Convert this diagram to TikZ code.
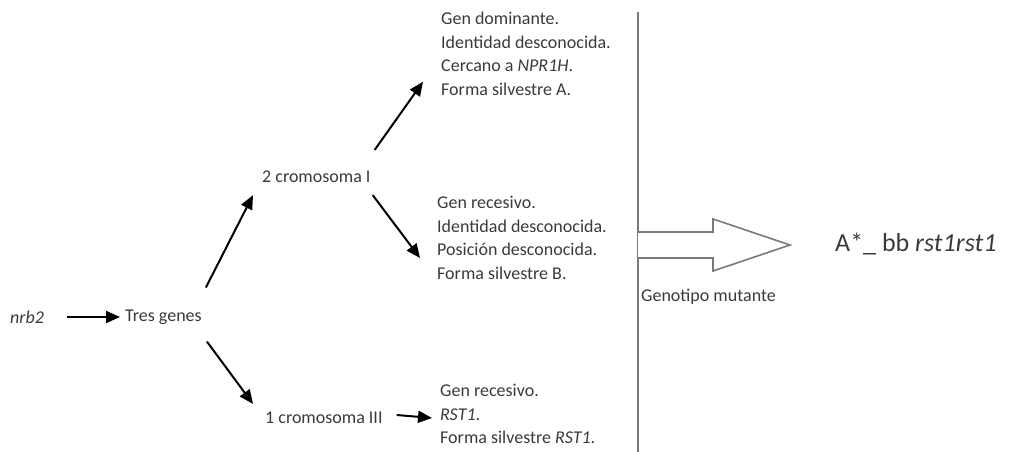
\documentclass[tikz,border=0pt]{standalone}
\usepackage{fontspec}
\setmainfont{Carlito}
\usetikzlibrary{arrows.meta}
\definecolor{textgray}{HTML}{3A3A3A}
\definecolor{linegray}{HTML}{7A7A7A}
\begin{document}
\begin{tikzpicture}[x=1pt,y=-1pt,
  txt/.style={anchor=west,inner sep=0pt,text=textgray,font=\fontsize{18}{23.5}\selectfont,align=left},
  bigtxt/.style={anchor=west,inner sep=0pt,text=textgray,font=\fontsize{26}{30}\selectfont},
  arr/.style={line width=2pt,-{Triangle[length=14pt,width=12pt]}},
  grayline/.style={draw=linegray,line width=2pt},
  hollowarrow/.style={draw=linegray,line width=1.6pt,fill=white,line join=miter}
]
\useasboundingbox (0,0) rectangle (1011,452);

\node[txt] (nrb2) at (10,317) {\itshape nrb2};
\node[txt] (tres) at (125,317) {Tres genes};
\node[txt] (c2) at (262,177) {2 cromosoma I};
\node[txt] (c1) at (265,418) {1 cromosoma III};

\node[txt] (b1) at (441,54) {Gen dominante.\\Identidad desconocida.\\Cercano a \textit{NPR1H}.\\Forma silvestre A.};
\node[txt] (b2) at (437,238) {Gen recesivo.\\Identidad desconocida.\\Posición desconocida.\\Forma silvestre B.};
\node[txt] (b3) at (440,414) {Gen recesivo.\\\textit{RST1}.\\Forma silvestre \textit{RST1}.};

\draw[grayline] (638,12) coordinate (vtop) -- (638,452) coordinate (vbot);
\draw[hollowarrow] (638,232) -- (713,232) -- (713,219) -- (790,245) -- (713,271) -- (713,258) -- (638,258);

\node[txt] (geno) at (641,297) {Genotipo mutante};
\node[bigtxt] (res) at (835,244) {A*\_ bb \textit{rst1rst1}};

\draw[arr] ([shift={(23,0)}]nrb2.east) -- ([shift={(-5,0)}]tres.west);
\draw[arr] ([shift={(4,-22)}]tres.north east) -- ([shift={(-9,12)}]c2.south west);
\draw[arr] ([shift={(5,17)}]tres.south east) -- ([shift={(-12,-8)}]c1.north west);
\draw[arr] ([shift={(4,-21)}]c2.north east) -- ([shift={(-18,-14)}]b1.south west);
\draw[arr] ([shift={(2,12)}]c2.south east) -- ([shift={(-17,20)}]b2.west);
\draw[arr] ([shift={(14,-3)}]c1.east) -- ([shift={(-8,0)}]c1.east -| b3.west);
\end{tikzpicture}
\end{document}
